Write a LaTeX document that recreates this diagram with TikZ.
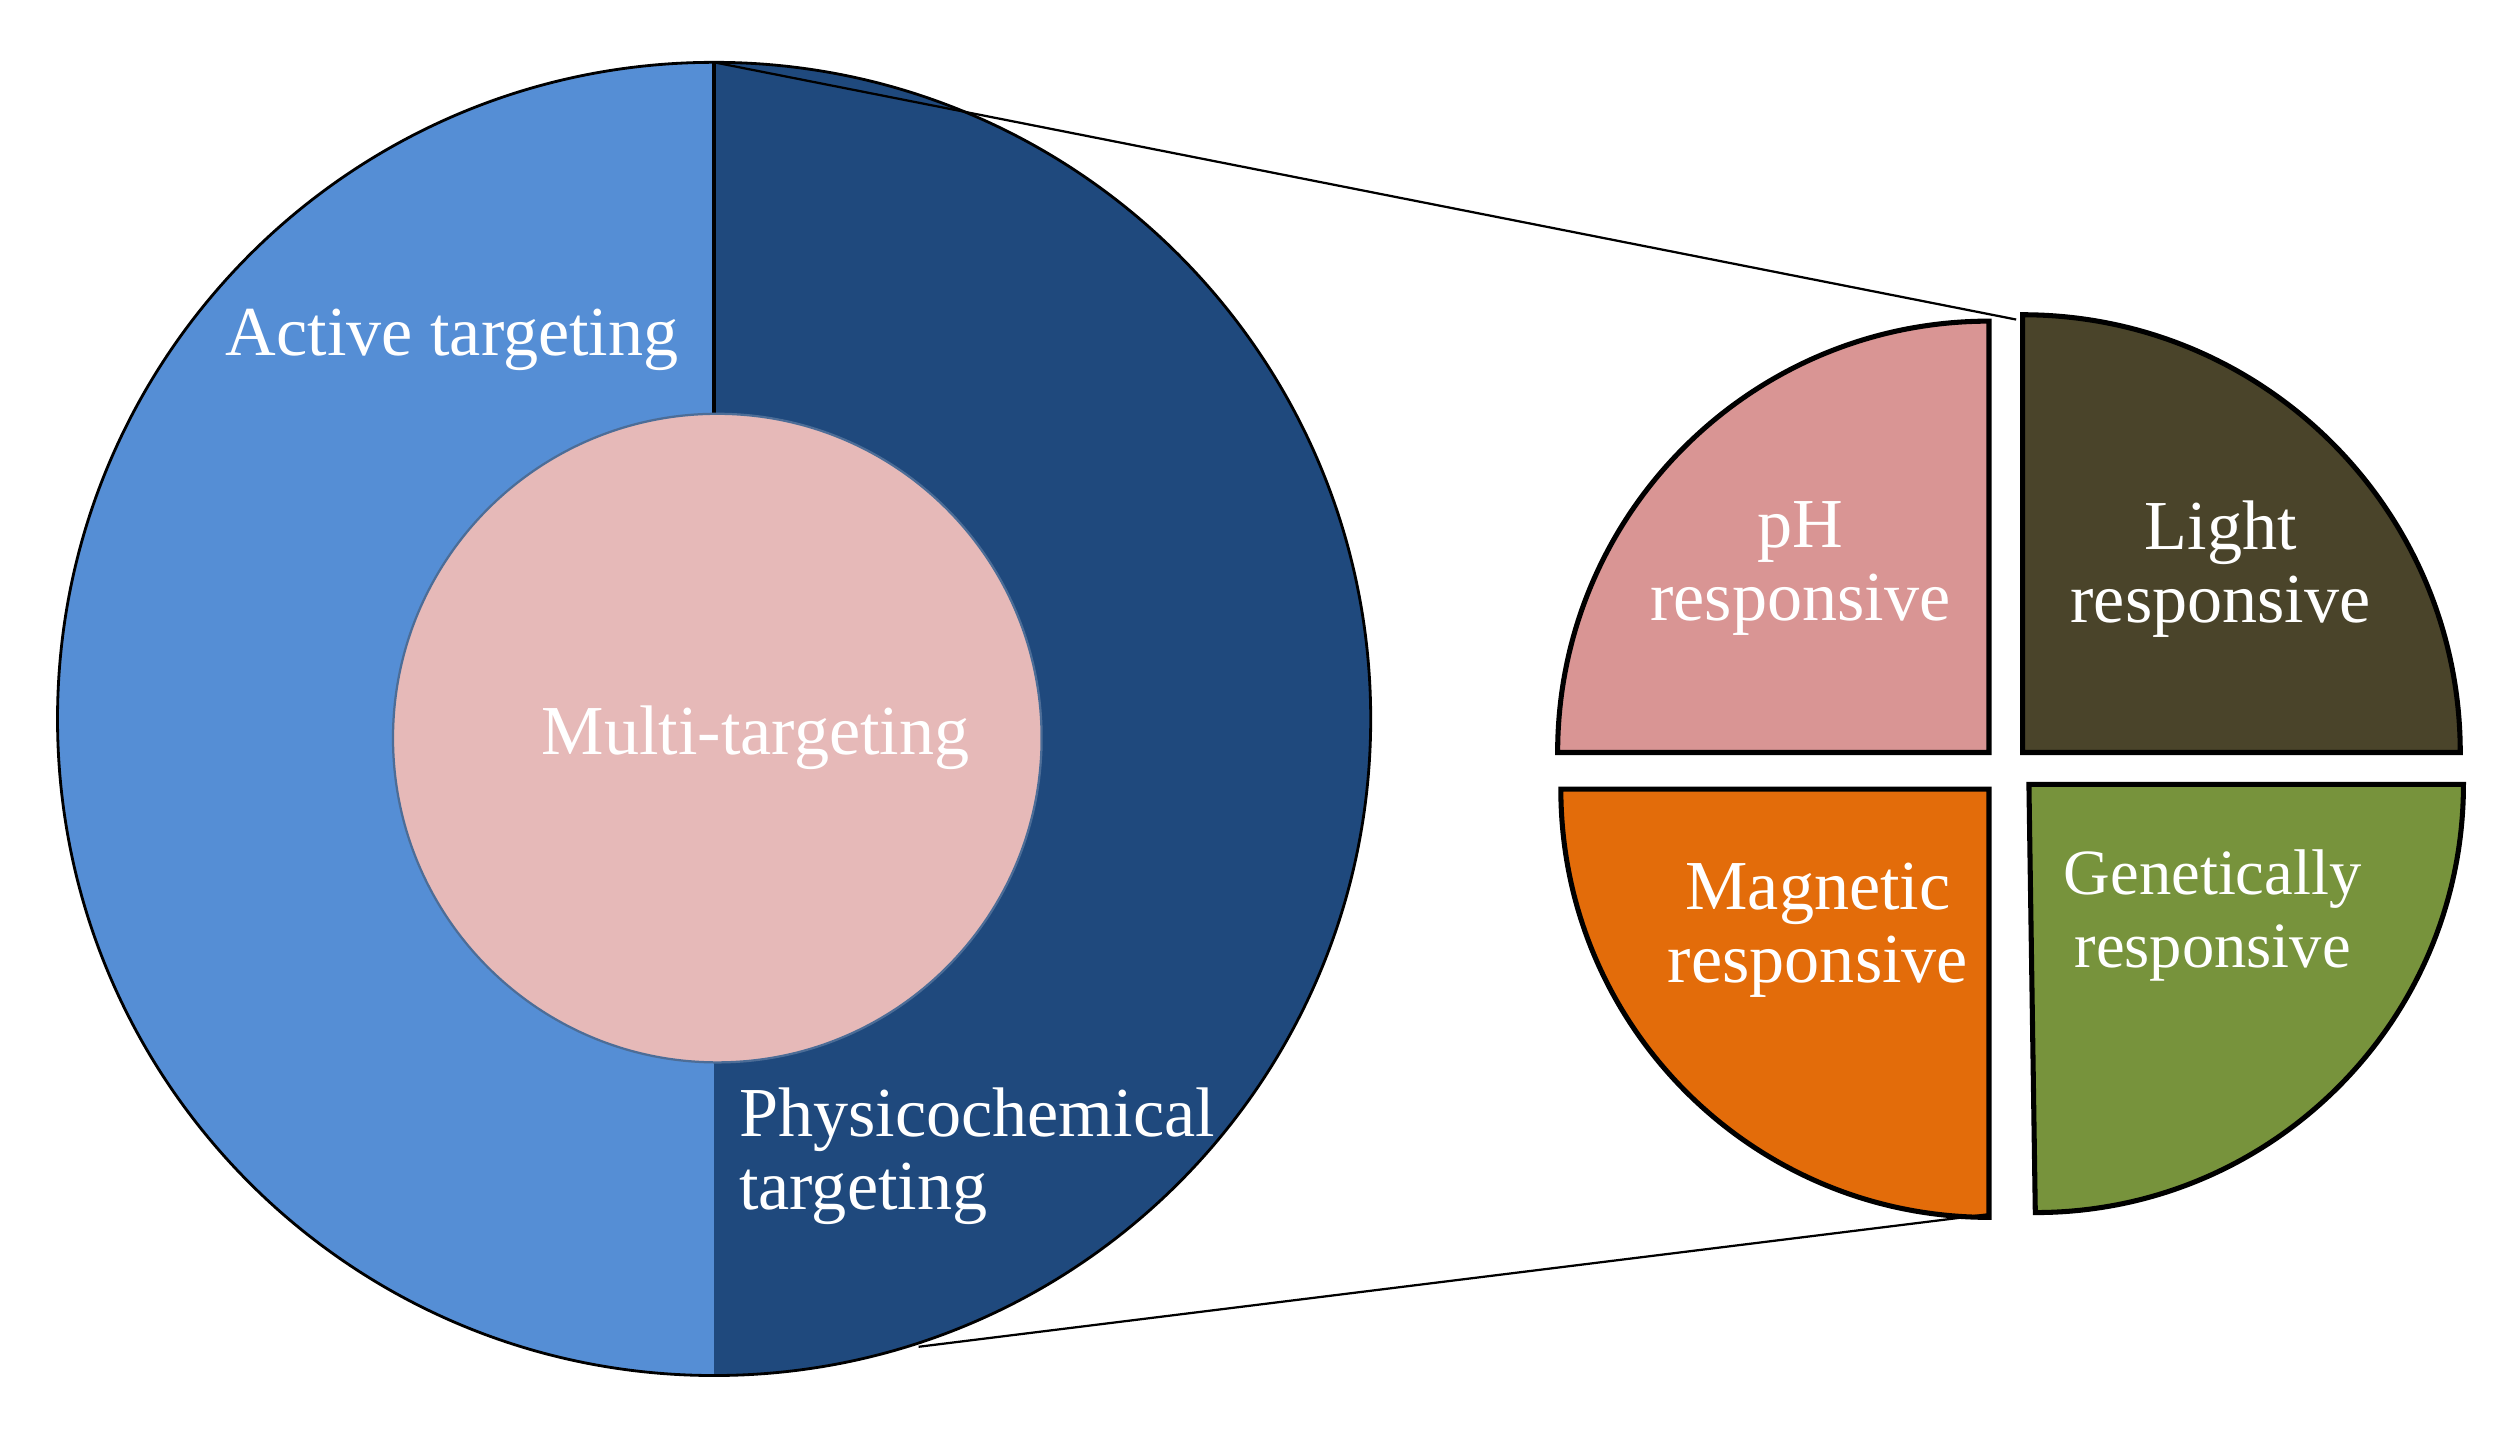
\documentclass[tikz,border=0pt]{standalone}
\usepackage{fontspec}
\setmainfont{Liberation Serif}
\definecolor{lblue}{HTML}{558ED5}
\definecolor{dblue}{HTML}{1F497D}
\definecolor{pinkc}{HTML}{E6B9B8}
\definecolor{phc}{HTML}{D99594}
\definecolor{lightc}{HTML}{4A442A}
\definecolor{magc}{HTML}{E36C0A}
\definecolor{genc}{HTML}{77933C}
\begin{document}
\begin{tikzpicture}[x=0.1mm,y=-0.1mm,
  lbl/.style={text=white,font=\fontsize{12.5}{13}\selectfont,align=center,inner sep=0pt},
  quad/.style={draw=black,line width=0.9pt}]
\useasboundingbox (0,0) rectangle (1568,905);
\coordinate (C) at (447,450);
\fill[lblue] (C) ++(0,41.1mm) arc[start angle=90,end angle=270,radius=41.1mm] -- cycle;
\fill[dblue] (C) ++(0,41.1mm) arc[start angle=90,end angle=-90,radius=41.1mm] -- cycle;
\draw[black,line width=0.5pt] (C) circle[radius=41.1mm];
\draw[black,line width=0.6pt] (447,39) -- (447,462);
\fill[pinkc,draw=dblue!80,line width=0.4pt] (449,462) circle[radius=20.3mm];
\node[circle,minimum size=40.6mm,inner sep=0pt] (inner) at (449,462) {};
\node[lbl] (mt) at (473,462) {Multi-targeting};
\node[lbl] (at) at (283,213) {Active targeting};
\node[lbl,anchor=west,align=left] (pc) at (462,724) {Physicochemical\\targeting};
% quadrants
\coordinate (TL) at (1245,471);
\coordinate (TR) at (1266,471);
\coordinate (BL) at (1245,494);
\coordinate (BR) at (1270,491);
\filldraw[quad,fill=phc] (TL) -- ++(-27mm,0) arc[start angle=180,end angle=90,radius=27mm] -- cycle;
\filldraw[quad,fill=lightc] (TR) -- ++(27.4mm,0) arc[start angle=0,end angle=90,radius=27.4mm] -- cycle;
\filldraw[quad,fill=magc] (BL) -- ++(-26.8mm,0) arc[start angle=180,end angle=270,radius=26.8mm] -- cycle;
\filldraw[quad,fill=genc] (BR) -- ++(27.2mm,0) arc[start angle=0,end angle=-90,radius=26.8mm] -- cycle;
\node[lbl] (ph) at (1127,356) {pH\\responsive};
\node[lbl] (li) at (1390,356) {Light\\responsive};
\node[lbl] (ma) at (1138,582) {Magnetic\\responsive};
\node[lbl,font=\fontsize{11.5}{13}\selectfont] (ge) at (1385,573) {Genetically\\responsive};
\coordinate (z1) at (447,39);
\coordinate (z2) at (1262,200);
\coordinate (z3) at (575,843);
\coordinate (z4) at (1245,760);
\draw[black,line width=0.4pt] (z1) -- (z2);
\draw[black,line width=0.4pt] (z3) -- (z4);
\end{tikzpicture}
\end{document}
